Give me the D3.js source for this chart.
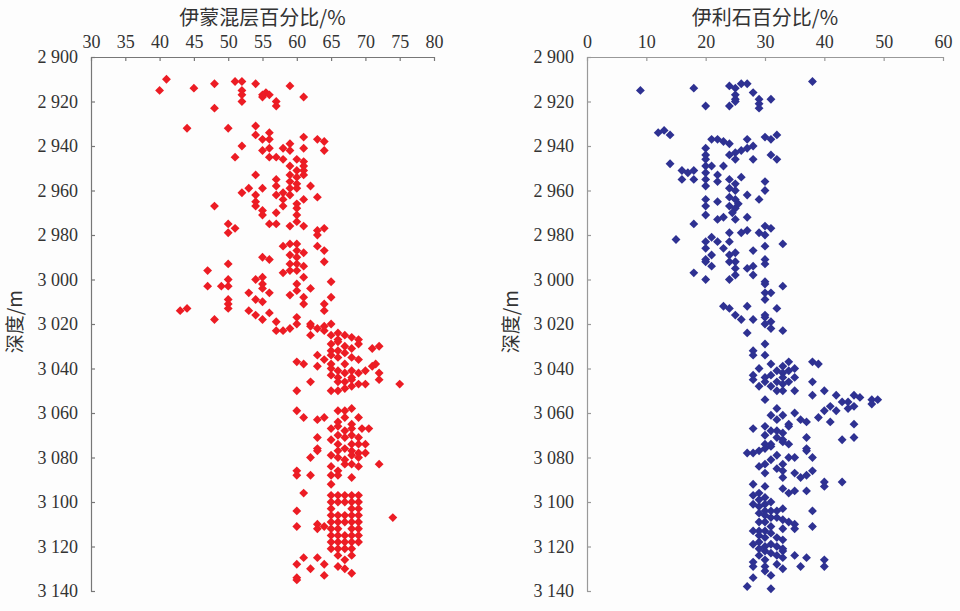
<!DOCTYPE html>
<html>
<head>
<meta charset="utf-8">
<script src="https://cdn.jsdelivr.net/npm/d3@7"></script>
<style>
  html, body { margin: 0; padding: 0; background: #fdfdfd; }
  svg { display: block; }
</style>
</head>
<body>
<svg id="chart" width="960" height="611"></svg>
<script>
// depth axis (shared)
const depthTicks = [2900, 2920, 2940, 2960, 2980, 3000, 3020, 3040, 3060, 3080, 3100, 3120, 3140]

// left panel: illite/smectite mixed layer %  [depth, value]
const ismTicks = [30, 35, 40, 45, 50, 55, 60, 65, 70, 75, 80]
const ismData = [
  [2910,41],[2915,40],[2914,45],[2912,48],[2923,48],[2911,51],[2911,52],[2915,52],[2917,52],[2920,52],
  [2912,54],[2917,55],[2916,55.5],[2918,55],[2917,56],[2920,57],[2922,57],[2913,59],[2918,61],
  [2932,44],[2932,50],[2931,54],[2935,54],[2934,56],[2937,55],[2937,56],[2936,61],[2937,63],[2938,64],[2942,64],
  [2940,52],[2945,51],[2942,55],[2941,56],[2945,56],[2945,57],[2941,58],[2939,59],[2942,59],[2946,58],[2941,61],
  [2946,60],[2947,61],[2949,59],[2951,60],[2951,61],[2953,59],[2954,60],[2956,59],[2957,60],[2959,59],[2959,60],[2949,61],[2953,61],
  [2953,54],[2959,53],[2961,52],[2962,54],[2965,54],[2967,54],[2959,55],[2955,57],[2958,57],[2962,57],[2961,58],[2964,58],
  [2967,58],[2962,59],[2958,62],[2963,63],[2964,61],[2966,60],[2968,60],[2971,60],[2974,60],[2967,48],[2969,55],[2971,55],
  [2975,56],[2970,57],[2975,57],[2976,59],[2976,61],[2975,50],[2977,51],[2979,50],[2978,63],[2977,64],
  [2996,47],[3003,47],[2993,50],[3000,50],[3003,50],[3003,49],[3009,50],[3011,50],[3013,50],[3014,43],[3013,44],[3018,48],
  [2990,55],[2991,56],[3000,54],[2999,55],[3002,55],[3004,55],[3006,56],[3006,53],[3009,54],[3010,55],[3014,53],[3016,54],
  [3018,55],[3015,56],[3019,57],[3023,57],[3023,58],[3022,59],[3020,60],[3017,60],
  [2985,58],[2984,59],[2984,60],[2987,60],[2988,61],[2990,60],[2989,59],[2993,59],[2993,60],[2996,60],[2994,61],[2997,58],
  [2996,59],[2999,61],[3002,60],[3005,60],[3007,59],[3008,61],[3011,61],[3004,62],
  [2980,63],[2985,63],[2987,64],[2992,64],[3001,65],[3008,65],[3011,64],[3014,64],
  [3021,62],[3022,63],[3025,62],[3023,64],[3020,65],[3020,62],[3021,64],
  [3025,65],[3024,66],[3025,67],[3026,68],[3027,69],[3029,69],[3029,65],[3028,66],[3032,65],[3032,66],[3033,67],[3035,68],
  [3036,69],[3031,71],[3030,72],[3030,67],[3031,68],[3035,66],[3038,67],[3044,66],[3044,68],[3048,68],[3027,66],[3034,65],[3038,65],
  [3037,60],[3038,61],[3034,63],[3036,64],[3039,63],[3040,65],[3041,66],[3043,65],[3042,67],[3041,68],[3042,69],[3041,70],
  [3039,71],[3038,71.5],[3042,72],[3045,72],
  [3046,66],[3046,67],[3045,68],[3047,69],[3047,70],[3050,65],[3050,66],[3049,67],[3047,75],[3046,62],[3050,60],
  [3059,60],[3062,61],[3063,63],[3062,64],[3071,63],[3076,63],[3077,63],[3080,62],
  [3059,66],[3059,67],[3058,68],[3062,67],[3062,69],[3067,65],[3066,66],[3068,67],[3067,68],[3067,69.5],[3067,70.5],
  [3070,66],[3071,67],[3070,68],[3071,69],[3072,65],[3074,66],[3074,68],[3074,69],[3074,70],[3077,66],[3077,68],[3078,69],
  [3078,70],[3079,65],[3080,66],[3079,68],[3080,69],[3083,67],[3083,68],[3084,69],[3084,65],[3086,66],[3088,65],[3088,66],
  [3092,65],[3089,68],[3083,72],[3064,66],[3065,68],[3076,67],[3081,67],
  [3086,60],[3088,60],[3088,62],[3096,61],[3104,60],[3111,60],[3110,63],[3112,63],[3111,64],[3107,74],
  [3097,65],[3097,66],[3097,67],[3097,68],[3097,69],[3100,65],[3100,66],[3100,67],[3100,68],[3100,69],
  [3103,65],[3103,68],[3103,69],[3106,65],[3106,66],[3106,67],[3106,68],[3106,69],
  [3109,65],[3109,66],[3109,67],[3109,68],[3109,69],[3112,65],[3112,66],[3112,68],[3112,69],
  [3115,65],[3115,66],[3115,67],[3115,68],[3115,69],[3118,65],[3118,66],[3118,67],[3118,68],[3118,69],
  [3121,65],[3121,66],[3121,67],[3121,68],[3124,66],[3124,68],
  [3125,63],[3125,61],[3128,60],[3130,62],[3134,60],[3135,60],[3133,64],[3128,64],[3129,66],[3130,67],[3126,67],[3132,68]
]

// right panel: illite %  [depth, value]
const illTicks = [0, 10, 20, 30, 40, 50, 60]
const illData = [
  [2915,9],[2914,18],[2922,20],[2913,24],[2914,25],[2912,26],[2912,27],[2917,25],[2919,25],[2920,25],[2922,24],[2916,28],
  [2919,29],[2921,29],[2923,29],[2919,31],[2911,38],
  [2934,12],[2933,13],[2935,14],[2937,21],[2937,22],[2938,23],[2939,24],[2937,27],[2940,28],[2941,27],[2942,26],[2943,25],
  [2944,24],[2936,30],[2937,31],[2935,32],[2944,31],[2946,32],[2946,28],[2946,25],[2941,20],[2944,20],[2946,20],[2949,20],
  [2949,21],[2952,20],[2948,14],[2951,16],[2952,17],[2951,18],[2955,16],[2955,18],[2955,20],[2958,20],[2953,22],[2956,22],
  [2949,23],[2954,26],
  [2955,24],[2957,25],[2959,24],[2960,25],[2963,24],[2964,25],[2967,24],[2968,25],[2970,24.5],[2966,25.5],
  [2962,27],[2956,30],[2960,30],[2964,29],[2964,20],[2967,20],[2971,20],[2965,22],[2973,22],[2972,23],[2972,27],[2973,25],
  [2975,18],[2982,15],[2979,24],[2979,26],[2978,27],[2979,29],[2976,30],[2977,31],[2980,30],
  [2983,20],[2981,21],[2983,22],[2986,23],[2983,24],[2986,20],[2989,21],[2991,20],[2992,20],[2994,21],[2997,18],[3000,20],
  [2989,24],[2988,25],[2992,24],[2992,25],[2995,25],[2998,25],[3000,24],[2995,27],[2994,28],[2998,28],[2987,28],[2985,30],
  [2991,30],[2993,30],[2984,33],[3001,30],[3002,30],[3003,33],[3006,30],[3009,30],[3006,31],[3013,32],[3012,23],[3013,24],
  [3016,25],[3018,26],[3012,27],[3018,28],[3016,30],[3017,30],[3019,31],[3020,30],[3022,31],[3023,33],[3024,27],
  [3029,30],[3032,28],[3034,28],[3034,30],[3037,34],[3037,38],[3038,39],[3040,29],[3038,31],[3041,32],[3042,33],[3041,34],
  [3040,35],[3043,31],[3046,30],[3048,31],[3046,32],[3047,33],[3046,34],[3044,35],[3050,35],[3050,32],[3050,33],[3043,28],
  [3045,28],[3046,38],[3052,38],[3050,40],[3052,42],[3054,30],[3044,30],[3048,29],[3039,33],[3044,33],
  [3055,43],[3055,44],[3052,45],[3053,46],[3057,45],[3058,44],[3054,48],[3054,49],[3056,48],[3059,42],[3057,41],[3059,40],
  [3062,39],[3064,41],[3065,45],[3072,43],[3071,45],
  [3058,32],[3061,31],[3061,33],[3065,34],[3060,35],[3063,36],[3064,37],[3067,28],[3071,37],[3076,37],
  [3066,30],[3068,31],[3068,32],[3069,33],[3066,34],[3071,32],[3072,33],[3074,31],[3074,34],[3063,32],[3070,30],
  [3078,27],[3078,28],[3077,29],[3074,30],[3075,31],[3073,33],[3076,30],[3077,37],[3080,38],
  [3084,29],[3083,30],[3081,31],[3085,32],[3083,33],[3086,33],[3080,34],[3080,35],[3079,32],
  [3087,35],[3089,36],[3088,37],[3086,38],[3087,30],[3089,33],[3091,40],[3093,40],[3091,43],[3092,28],[3093,30],[3094,33],
  [3096,34],[3095,35],[3095,37],
  [3097,28],[3096,29],[3099,29],[3098,30],[3102,29],[3101,30],[3100,31],[3104,30],[3104,31],[3104,32],[3103,33],[3107,32],
  [3108,33],[3109,34],[3110,35],[3112,35],[3112,33],[3107,31],[3109,30],[3109,29],[3101,28],[3105,29],[3106,30],[3111,31],
  [3113,29],[3113,30],[3114,31],[3116,32],[3117,33],[3119,28],[3118,29],[3120,30],[3119,31],[3120,32],[3122,33],[3123,31],
  [3124,32],[3121,33],[3122,30],[3113,28],[3115,29],[3116,30],[3121,29],[3124,29],
  [3104,38],[3111,38],[3124,35],[3125,33],[3125,37],[3126,40],[3129,40],[3127,28],[3129,28],[3126,30],[3129,30],[3128,32],
  [3130,33],[3129,36],[3134,28],[3131,30],[3133,31],[3138,27],[3139,31]
]

const svg = d3.select('#chart')
const textColor = '#333'
const serif = '"Liberation Serif", "DejaVu Serif", "Times New Roman", serif'
const cjk   = '"Noto Sans CJK SC", "Liberation Serif", sans-serif'

// one depth panel
function drawPanel(o) {
  const x = d3.scaleLinear().domain(o.domain).range([o.left, o.right])
  const y = d3.scaleLinear().domain([2900, 3140]).range([57, 591])

  const g = svg.append('g')

  // top axis, ticks inside
  const xAxis = g.append('g')
    .attr('transform', `translate(0,${y(2900)})`)
    .call(d3.axisTop(x).tickValues(o.ticks).tickSize(-4).tickPadding(9).tickSizeOuter(0))
  xAxis.attr('font-family', serif).attr('font-size', 18)
  xAxis.selectAll('text').attr('fill', textColor)

  // left depth axis, ticks inside
  const yAxis = g.append('g')
    .attr('transform', `translate(${o.left},0)`)
    .call(d3.axisLeft(y).tickValues(depthTicks).tickSize(-4).tickPadding(13).tickSizeOuter(0)
      .tickFormat(d => String(d).replace(/^(\d)(\d{3})$/, '$1 $2')))
  yAxis.attr('font-family', serif).attr('font-size', 18)
  yAxis.selectAll('text').attr('fill', textColor)

  g.selectAll('.domain, .tick line').attr('stroke', o.axisColor).attr('stroke-width', 1.2)

  // titles
  g.append('text')
    .attr('x', (o.left + o.right) / 2 + o.titleShift)
    .attr('y', 25)
    .attr('text-anchor', 'middle')
    .attr('font-size', '20px')
    .attr('font-family', cjk)
    .attr('fill', textColor)
    .text(o.title)

  g.append('text')
    .attr('transform', `translate(${o.left - 69},${y(3019)}) rotate(-90)`)
    .attr('text-anchor', 'middle')
    .attr('font-size', '19px')
    .attr('font-family', cjk)
    .attr('fill', textColor)
    .text('深度/m')

  // points
  const sym = d3.symbol().type(d3.symbolDiamond2 || d3.symbolDiamond).size(50)
  g.append('g')
    .selectAll('path')
    .data(o.data)
    .join('path')
    .attr('d', sym)
    .attr('transform', d => `translate(${x(d[1])},${y(d[0])})`)
    .attr('fill', o.color)
}

drawPanel({
  domain: [30, 80], ticks: ismTicks, left: 91, right: 434,
  data: ismData, color: '#ec1c24', axisColor: '#777',
  title: '伊蒙混层百分比/%', titleShift: 0
})

drawPanel({
  domain: [0, 60], ticks: illTicks, left: 587, right: 943,
  data: illData, color: '#2e3192', axisColor: '#999',
  title: '伊利石百分比/%', titleShift: 0
})
</script>
</body>
</html>
